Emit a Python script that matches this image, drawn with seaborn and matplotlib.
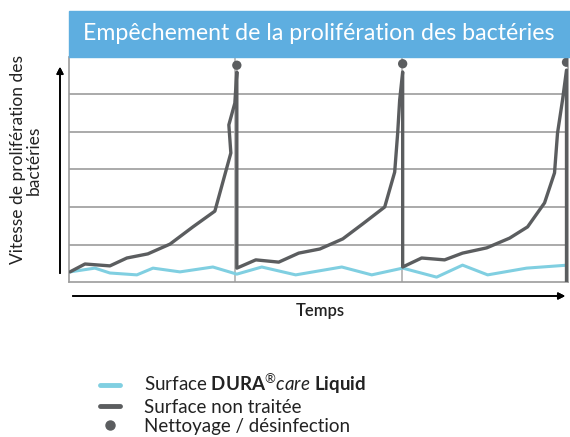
import numpy as np
import pandas as pd
import matplotlib.pyplot as plt
import seaborn as sns
from matplotlib.lines import Line2D
from matplotlib.patches import Rectangle

# grey curve: untreated surface (x in periods, y in grid units)
grey_x = [0.006, 0.096, 0.246, 0.348, 0.474, 0.607, 0.745, 0.877, 0.973, 0.961, 0.997, 1.009,
          1.009, 1.123, 1.261, 1.381, 1.508, 1.646, 1.766, 1.898, 1.958, 1.976, 1.988, 2.006,
          2.006, 2.120, 2.258, 2.366, 2.511, 2.649, 2.757, 2.859, 2.919, 2.937, 2.967, 2.991,
          2.991]
grey_y = [0.27, 0.48, 0.43, 0.64, 0.75, 1.01, 1.47, 1.89, 3.44, 4.19, 4.77, 5.6,
          0.37, 0.59, 0.53, 0.77, 0.88, 1.15, 1.55, 2.0, 2.93, 3.97, 4.85, 5.6,
          0.40, 0.64, 0.59, 0.77, 0.91, 1.17, 1.47, 2.11, 2.91, 3.97, 4.85, 5.65,
          0.0]

# cyan curve: DURA care Liquid surface
blue_x = [0.006, 0.156, 0.246, 0.408, 0.505, 0.667, 0.865, 1.009, 1.159, 1.363, 1.640,
          1.820, 2.006, 2.210, 2.366, 2.517, 2.751, 2.998]
blue_y = [0.27, 0.37, 0.24, 0.19, 0.37, 0.27, 0.40, 0.21, 0.40, 0.19, 0.40,
          0.19, 0.37, 0.13, 0.45, 0.19, 0.37, 0.45]

# cleaning / disinfection events
clean_x = [1.009, 2.006, 2.991]
clean_y = [5.78, 5.82, 5.86]

title = "Empêchement de la prolifération des bactéries"
ylabel = "Vitesse de prolifération des\nbactéries"
xlabel = "Temps"

GREY = "#5b5d5f"
CYAN = "#80cfe1"
GRID = "#9c9c9c"
HEAD = "#5eaee0"

sns.set_theme(style="white")
plt.rcParams['font.family'] = ['Lato', 'DejaVu Sans']
plt.rcParams['mathtext.fontset'] = 'custom'
plt.rcParams['mathtext.rm'] = 'Lato'
plt.rcParams['mathtext.bf'] = 'Lato:bold'
plt.rcParams['mathtext.it'] = 'Lato:italic'

W, H = 570, 437
fig = plt.figure(figsize=(W / 100, H / 100), dpi=100)
ax = fig.add_axes([69 / W, (H - 282) / H, 499 / W, 225 / H])

df_grey = pd.DataFrame({"x": grey_x, "y": grey_y})
df_blue = pd.DataFrame({"x": blue_x, "y": blue_y})
df_clean = pd.DataFrame({"x": clean_x, "y": clean_y})

# grid
for yv in range(1, 6):
    ax.axhline(yv, color=GRID, lw=1.2, zorder=1)
for xv in [1, 2]:
    ax.axvline(xv, color="#b0b0b0", lw=1.2, zorder=1)

sns.lineplot(data=df_blue, x="x", y="y", sort=False, estimator=None, color=CYAN, lw=2.2, ax=ax, zorder=3)
sns.lineplot(data=df_grey, x="x", y="y", sort=False, estimator=None, color=GREY, lw=2.4, ax=ax, zorder=4)
sns.scatterplot(data=df_clean, x="x", y="y", color=GREY, s=45, edgecolor="none", ax=ax, zorder=5)

ax.set_xlim(0, 3)
ax.set_ylim(0, 6)
ax.set_xticks([])
ax.set_yticks([])
ax.set_xlabel("")
ax.set_ylabel("")
for side in ["left", "bottom", "right"]:
    ax.spines[side].set_color(GRID)
    ax.spines[side].set_linewidth(1.2)
ax.spines["top"].set_visible(False)
ax.patch.set_alpha(0)

# title banner
fig.patches.append(Rectangle((69 / W, (H - 57) / H), (W - 69) / W, 46 / H,
                             transform=fig.transFigure, color=HEAD, zorder=0))
fig.text(83 / W, (H - 34) / H, title, color="white", fontsize=16.7, va="center", ha="left")

# axis arrows
fig.add_artist(plt.annotate("", xy=(60 / W, (H - 64) / H), xytext=(60 / W, (H - 276) / H),
                            xycoords="figure fraction", textcoords="figure fraction",
                            arrowprops=dict(arrowstyle="-|>", color="black", lw=1.2, mutation_scale=10)))
fig.add_artist(plt.annotate("", xy=(568 / W, (H - 296) / H), xytext=(70 / W, (H - 296) / H),
                            xycoords="figure fraction", textcoords="figure fraction",
                            arrowprops=dict(arrowstyle="-|>", color="black", lw=1.2, mutation_scale=10)))

fig.text(26 / W, (H - 160) / H, ylabel, rotation=90, ha="center", va="center",
         fontsize=12.5, color="#222222", linespacing=0.95)
fig.text(320 / W, (H - 311) / H, xlabel, ha="center", va="center", fontsize=12,
         fontweight="semibold", color="#222222")

# legend
handles = [Line2D([], [], color=CYAN, lw=3.5),
           Line2D([], [], color=GREY, lw=3.5),
           Line2D([], [], color=GREY, lw=0, marker="o", markersize=6.5)]
labels = [r"Surface $\mathbf{DURA}^{®}\mathit{care}\ \mathbf{Liquid}$",
          "Surface non traitée",
          "Nettoyage / désinfection"]
fig.legend(handles, labels, loc="upper left", bbox_to_anchor=(100 / W, (H - 372) / H),
           frameon=False, fontsize=13.5, handlelength=1.05, handletextpad=1.3,
           labelspacing=0.12, borderpad=0, borderaxespad=0, labelcolor="#222222")

fig.savefig("out.png", dpi=100)
